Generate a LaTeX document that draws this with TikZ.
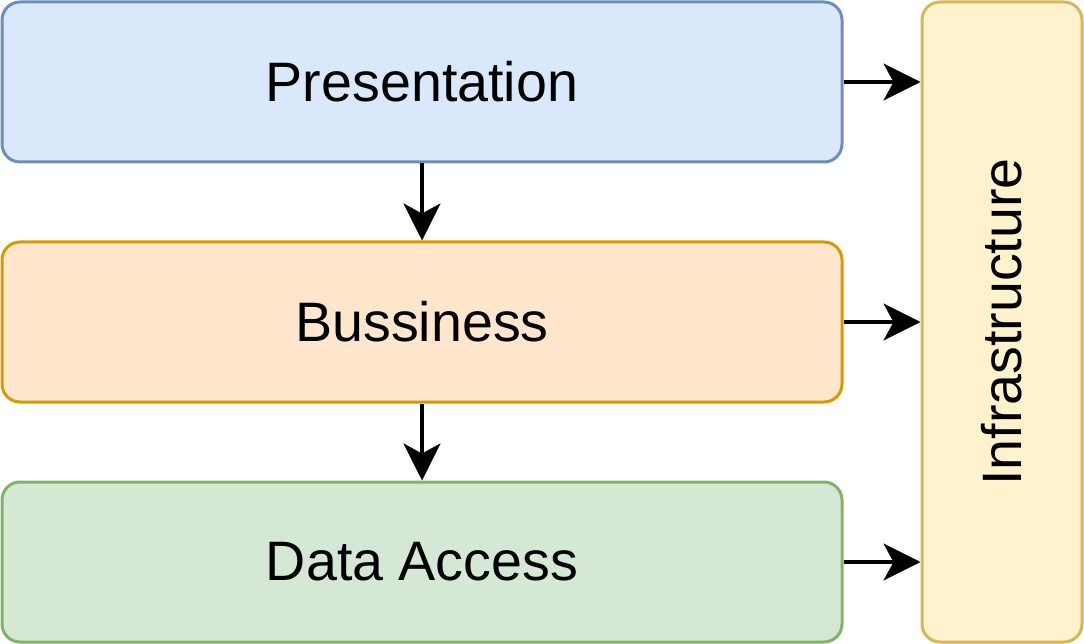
\documentclass[tikz,border=0pt]{standalone}
\usepackage{fontspec}
\setmainfont{Liberation Sans}
\usetikzlibrary{arrows.meta}
\definecolor{bfill}{HTML}{DAE8FC}\definecolor{bline}{HTML}{6C8EBF}
\definecolor{ofill}{HTML}{FFE6CC}\definecolor{oline}{HTML}{D79B00}
\definecolor{gfill}{HTML}{D5E8D4}\definecolor{gline}{HTML}{82B366}
\definecolor{yfill}{HTML}{FFF2CC}\definecolor{yline}{HTML}{D6B656}
\begin{document}
\begin{tikzpicture}[x=1pt,y=-1pt,
  layer/.style={draw, line width=3pt, rounded corners=18pt, inner sep=0pt, font=\fontsize{55.6}{60}\selectfont},
  conn/.style={line width=3.5pt, -{Stealth[length=37pt,width=37pt,inset=10pt]}}]
\useasboundingbox (0,0) rectangle (1084,644);
\node[layer, fill=bfill, draw=bline, minimum width=840pt, minimum height=160pt] (p) at (422,82) {Presentation};
\node[layer, fill=ofill, draw=oline, minimum width=840pt, minimum height=160pt] (b) at (422,322) {Bussiness};
\node[layer, fill=gfill, draw=gline, minimum width=840pt, minimum height=160pt] (d) at (422,562) {Data Access};
\node[layer, fill=yfill, draw=yline, minimum width=160pt, minimum height=640pt] (i) at (1002,322) {};
\node[rotate=90, font=\fontsize{55.6}{60}\selectfont] (il) at (i.center) {Infrastructure};
\draw[conn] (p.south) -- (b.north);
\draw[conn] (b.south) -- (d.north);
\draw[conn] (p.east) -- (p.east -| i.west);
\draw[conn] (b.east) -- (b.east -| i.west);
\draw[conn] (d.east) -- (d.east -| i.west);
\end{tikzpicture}
\end{document}
